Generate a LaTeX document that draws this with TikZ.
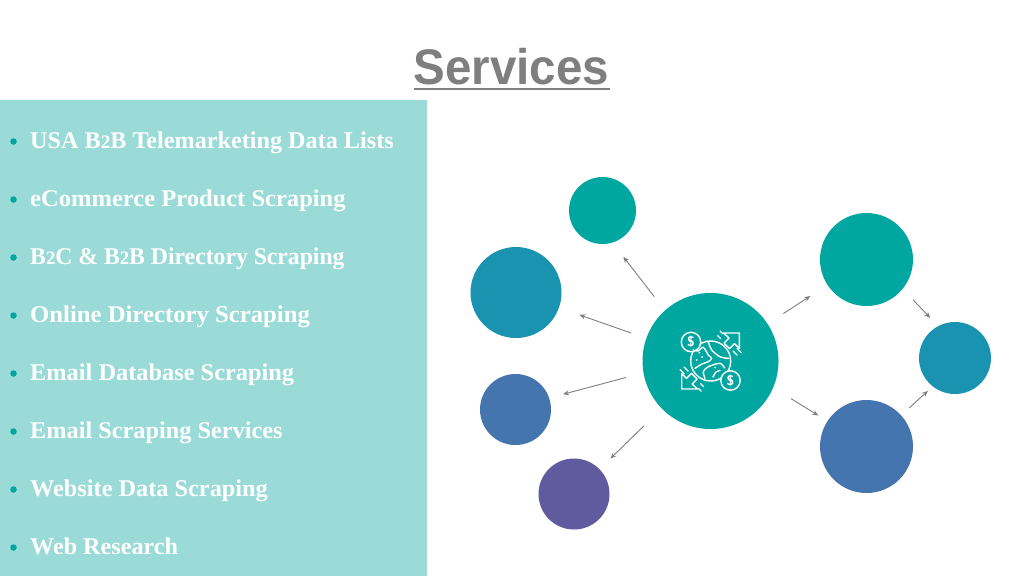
\documentclass[tikz,border=0pt]{standalone}
\usepackage{fontspec}
\setmainfont{Liberation Serif}
\newfontfamily\titlefont{Liberation Sans}
\usetikzlibrary{arrows.meta}
\definecolor{panel}{HTML}{9ADBD8}
\definecolor{teal}{HTML}{00A6A0}
\definecolor{bluea}{HTML}{1A93B0}
\definecolor{blueb}{HTML}{4475AE}
\definecolor{purp}{HTML}{605A9F}
\definecolor{ink}{HTML}{7F7F7F}
\newcommand{\two}{{\fontsize{19}{19}\selectfont 2}}
\tikzset{
  ball/.style={circle,inner sep=0pt,outer sep=0pt,minimum size=#1},
  conn/.style={draw=ink,line width=0.9pt,-{Stealth[length=6pt,width=5pt]}},
  listitem/.style={anchor=base west,inner sep=0pt,text=white,font=\fontsize{24}{24}\selectfont\bfseries},
  dot/.style={circle,fill=teal,inner sep=0pt,minimum size=6.5pt},
  ico/.style={draw=white,line width=1.4pt,line cap=round,line join=round},
  icodol/.style={inner sep=0pt,text=white,font=\fontsize{14}{14}\selectfont\bfseries\sffamily},
}
\begin{document}
\begin{tikzpicture}[x=1pt,y=-1pt]
\useasboundingbox (0,0) rectangle (1024,576);
\fill[white] (0,0) rectangle (1024,576);
\fill[panel] (0,100) rectangle (427,576);
\node[anchor=base,inner sep=0pt,text=ink,font=\fontsize{50}{50}\selectfont\bfseries\titlefont] (title) at (511.5,84) {\scalebox{.95}[1]{Services}};
\draw[ink,line width=2.4pt] (414,89) -- (609.5,89);
% list
\foreach \i/\y/\s/\t in {
 a/148/1.008/{USA B\two B Telemarketing Data Lists},
 b/206/1.023/{eCommerce Product Scraping},
 c/264/0.987/{B\two C \& B\two B Directory Scraping},
 d/322/1.03/{Online Directory Scraping},
 e/380/1.015/{Email Database Scraping},
 f/438/1.012/{Email Scraping Services},
 g/496/1.013/{Website Data Scraping},
 h/554/1.007/{Web Research}}{
  \node[dot] (dot\i) at (13.5,\y-6.5) {};
  \node[listitem] (item\i) at (30,\y) {\scalebox{\s}[1]{\t}};
}
% circles
\node[ball=136pt,fill=teal] (hub) at (710.5,361) {};
\node[ball=67pt,fill=teal] (top) at (602.5,210.5) {};
\node[ball=91pt,fill=bluea] (left) at (516,292.5) {};
\node[ball=71pt,fill=blueb] (low) at (515.5,409.5) {};
\node[ball=71pt,fill=purp] (bot) at (574,494) {};
\node[ball=93pt,fill=teal] (ra) at (866.5,259.5) {};
\node[ball=93pt,fill=blueb] (rb) at (866.5,446.5) {};
\node[ball=72pt,fill=bluea] (rc) at (955,358) {};
% connectors
\draw[conn,shorten <=17.4pt,shorten >=18pt] (hub.132) -- (top.-73.7);
\draw[conn,shorten <=16pt,shorten >=21.7pt] (hub) -- (left);
\draw[conn,shorten <=18pt,shorten >=14.5pt] (hub.190.6) -- (low.19.8);
\draw[conn,shorten <=25pt,shorten >=15.4pt] (hub) -- (bot);
\draw[conn,shorten <=19pt,shorten >=20.5pt] (hub) -- (ra);
\draw[conn,shorten <=21pt,shorten >=10.8pt] (hub.-23) -- (rb.147.9);
\draw[conn,shorten <=15pt,shorten >=11.5pt] (ra.-39.3) -- (rc.118.4);
\draw[conn,shorten <=11pt,shorten >=6.7pt] (rb.42.3) -- (rc.232.3);
% icon
\begin{scope}[ico]
 \draw (710.7,361) circle (20);
 \fill[teal] (691,342) circle (10);
 \fill[teal] (730.5,380.5) circle (10);
 \draw (691,342) circle (9.7);
 \draw (730.5,380.5) circle (9.7);
 % continents
 \draw plot[smooth] coordinates {(693.3,350) (698,351) (703.3,347.3) (708.3,355) (711.7,358.3) (708.3,361.7) (702,364) (695,368.3)};
 \draw plot[smooth] coordinates {(708.3,341.7) (711.7,350) (720,356.7) (729,358.5)};
 \draw plot[smooth] coordinates {(705,378.3) (703.3,371.7) (708.3,366.7) (720,363.3) (724.5,368)};
 \draw plot[smooth] coordinates {(713,377) (716,372) (720,370.5)};
 \fill[white,draw=none] (699.3,352.7) circle (1) (696.7,360) circle (1) (702,357) circle (1) (715,367.5) circle (1);
 % top-right arrow
 \draw (739.3,333) -- (739.3,348.5) -- (734.5,343.7) -- (729.5,348.7) -- (724,343) -- (729,338) -- (723.5,333) -- cycle;
 \draw (717.5,335.5) -- (720.5,338.5) (722.5,333.5) -- (720,331) (733,351) -- (737,355) (737,348.5) -- (741,352.5);
 % bottom-left arrow
 \draw (681.7,389) -- (681.7,373.5) -- (686.5,378.3) -- (691.5,373.3) -- (697,379) -- (692,384) -- (697.5,389) -- cycle;
 \draw (703.5,386.5) -- (700.5,383.5) (698.5,388.5) -- (701,391) (688,371) -- (684,367) (684,373.5) -- (680,369.5);
\end{scope}
\node[icodol] (dola) at (691,342) {\$};
\node[icodol] (dolb) at (730.5,380.5) {\$};
\end{tikzpicture}
\end{document}
